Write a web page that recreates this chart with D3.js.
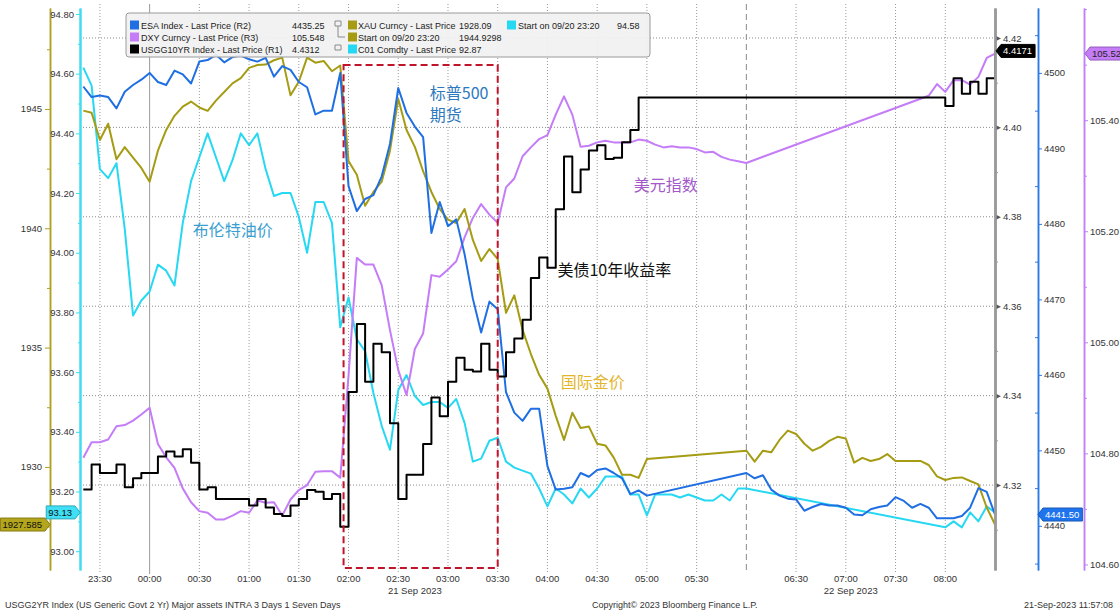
<!DOCTYPE html>
<html>
<head>
<meta charset="utf-8">
<script src="https://cdn.jsdelivr.net/npm/d3@7"></script>
<style>
  body { margin: 0; background: #fff; }
  svg text { font-family: "Liberation Sans", Arial, sans-serif; }
</style>
</head>
<body>
<script>
// 5-minute samples, 20 Sep 23:20 -> 21 Sep 08:30
var times = [
  "23:20","23:25","23:30","23:35","23:40","23:45","23:50","23:55",
  "00:00","00:05","00:10","00:15","00:20","00:25","00:30","00:35","00:40","00:45","00:50","00:55",
  "01:00","01:05","01:10","01:15","01:20","01:25","01:30","01:35","01:40","01:45","01:50","01:55",
  "02:00","02:05","02:10","02:15","02:20","02:25","02:30","02:35","02:40","02:45","02:50","02:55",
  "03:00","03:05","03:10","03:15","03:20","03:25","03:30","03:35","03:40","03:45","03:50","03:55",
  "04:00","04:05","04:10","04:15","04:20","04:25","04:30","04:35","04:40","04:45","04:50","04:55",
  "05:00","05:05","05:10","05:15","05:20","05:25","05:30","05:35","05:40","05:45","05:50","05:55",
  "06:00","06:05","06:10","06:15","06:20","06:25","06:30","06:35","06:40","06:45","06:50","06:55",
  "07:00","07:05","07:10","07:15","07:20","07:25","07:30","07:35","07:40","07:45","07:50","07:55",
  "08:00","08:05","08:10","08:15","08:20","08:25","08:30"
];

// ESA Index (R2)
var esa = [
  4498.2, 4496.8, 4497.0, 4496.8, 4495.3, 4497.5, 4498.4, 4499.1,
  4500.0, 4498.8, 4498.4, 4500.3, 4499.8, 4498.6, 4501.5, 4501.7,
  4502.4, 4501.4, 4502.1, 4502.3, 4501.8, 4501.5, 4502.0, 4499.5,
  4500.9, 4500.4, 4498.8, 4498.1, 4494.5, 4495.0, 4495.0, 4500.0,
  4485.0, 4481.7, 4483.3, 4483.8, 4486.3, 4490.6, 4498.0, 4494.7,
  4492.9, 4491.5, 4478.8, 4482.9, 4479.7, 4480.6, 4476.0, 4470.1,
  4465.6, 4469.7, 4468.7, 4457.7, 4455.0, 4453.9, 4455.5, 4455.5,
  4447.9, 4444.8, 4444.9, 4445.1, 4447.0, 4446.5, 4447.4, 4447.6,
  4447.0, 4446.3, 4444.2, 4444.7, 4444.0, null, null, null,
  null, null, null, null, null, null, null, null,
  4447.0, 4446.3, 4446.7, 4444.8, 4444.0, 4443.6, 4443.5, 4442.0,
  4442.5, 4442.9, 4442.7, 4442.7, 4442.4, 4441.5, 4441.4, 4442.2,
  4442.5, 4442.7, 4443.8, 4443.3, 4442.4, 4442.9, 4442.4, 4441.0,
  4441.0, 4441.0, 4441.3, 4442.4, 4445.0, 4444.5, 4441.5
];

// XAU Curncy (far left axis)
var xau = [
  1944.93, 1944.84, 1943.70, 1944.38, 1942.89, 1943.40, 1942.96, 1942.53,
  1941.95, 1943.25, 1944.12, 1944.71, 1945.10, 1945.31, 1945.06, 1944.92,
  1945.35, 1945.71, 1946.07, 1946.29, 1946.72, 1946.84, 1946.86, 1947.04,
  1947.15, 1945.57, 1946.14, 1947.15, 1946.94, 1947.01, 1946.58, 1946.82,
  1942.82, 1942.24, 1940.94, 1941.52, 1941.95, 1943.25, 1945.42, 1944.12,
  1943.41, 1942.39, 1941.52, 1940.81, 1940.36, 1940.22, 1940.81, 1939.51,
  1938.63, 1939.13, 1938.71, 1936.46, 1937.19, 1935.74, 1934.73, 1933.86,
  1933.28, 1932.14, 1931.13, 1932.27, 1931.63, 1931.69, 1930.97, 1930.90,
  1930.39, 1929.67, 1929.67, 1929.54, 1930.33, null, null, null,
  null, null, null, null, null, null, null, null,
  1930.68, 1930.22, 1930.68, 1930.61, 1931.13, 1931.52, 1931.38, 1930.97,
  1930.68, 1930.84, 1931.09, 1931.26, 1931.19, 1930.18, 1930.38, 1930.25,
  1930.33, 1930.54, 1930.25, 1930.25, 1930.25, 1930.25, 1930.08, 1929.60,
  1929.45, 1929.54, 1929.56, 1929.41, 1929.27, 1928.30, 1927.585
];

// C01 Comdty (left axis)
var c01 = [
  94.62, 94.56, 94.28, 94.25, 94.30, 94.08, 93.79, 93.84,
  93.87, 93.96, 93.94, 93.89, 94.10, 94.24, 94.32, 94.40,
  94.32, 94.24, 94.31, 94.40, 94.36, 94.40, 94.28, 94.19,
  94.20, 94.20, 94.12, 94.00, 94.17, 94.17, 94.10, 93.75,
  93.85, 93.71, 93.67, 93.53, 93.42, 93.34, 93.54, 93.59,
  93.52, 93.49, 93.50, 93.50, 93.48, 93.51, 93.43, 93.30,
  93.31, 93.37, 93.38, 93.30, 93.28, 93.27, 93.26, 93.21,
  93.15, 93.21, 93.19, 93.16, 93.21, 93.18, 93.21, 93.25,
  93.25, 93.25, 93.19, 93.19, 93.12, 93.19, 93.19, 93.19,
  93.18, 93.19, 93.18, 93.17, 93.17, 93.19, 93.17, 93.21,
  93.21, null, null, null, null, null, null, null,
  null, null, null, null, null, null, null, null,
  null, null, null, null, null, null, null, null,
  93.08, 93.10, 93.08, 93.13, 93.10, 93.15, 93.13
];

// DXY Curncy (R3)
var dxy = [
  104.792, 104.820, 104.820, 104.825, 104.849, 104.851, 104.859, 104.870,
  104.882, 104.817, 104.793, 104.774, 104.737, 104.712, 104.696, 104.693,
  104.681, 104.681, 104.688, 104.696, 104.693, 104.715, 104.711, 104.712,
  104.688, 104.717, 104.734, 104.743, 104.767, 104.768, 104.768, 104.756,
  104.940, 105.152, 105.140, 105.140, 105.103, 105.022, 104.950, 104.905,
  104.988, 105.016, 105.121, 105.118, 105.131, 105.146, 105.189, 105.224,
  105.249, 105.230, 105.215, 105.279, 105.295, 105.335, 105.351, 105.366,
  105.373, 105.410, 105.443, 105.410, 105.352, 105.354, 105.360, 105.363,
  105.360, 105.360, 105.360, 105.365, 105.363, 105.356, 105.351, 105.353,
  105.351, 105.351, 105.348, 105.342, 105.343, 105.334, 105.329, 105.326,
  105.323, null, null, null, null, null, null, null,
  null, null, null, null, null, null, null, null,
  null, null, null, null, null, null, 105.444, 105.465,
  105.451, 105.472, 105.472, 105.464, 105.478, 105.512, 105.520
];

// USGG10YR Index (R1)
var usgg10 = [
  4.3190, 4.3246, 4.3227, 4.3227, 4.3246, 4.3195, 4.3215, 4.3227,
  4.3227, 4.3264, 4.3275, 4.3264, 4.3280, 4.3250, 4.3190, 4.3195,
  4.3169, 4.3169, 4.3169, 4.3169, 4.3154, 4.3169, 4.3150, 4.3135,
  4.3131, 4.3154, 4.3169, 4.3189, 4.3185, 4.3169, 4.3180, 4.3107,
  4.3408, 4.3560, 4.3431, 4.3516, 4.3497, 4.3338, 4.3169, 4.3223,
  4.3223, 4.3292, 4.3396, 4.3354, 4.3431, 4.3485, 4.3458, 4.3454,
  4.3516, 4.3458, 4.3443, 4.3497, 4.3528, 4.3570, 4.3663, 4.3709,
  4.3686, 4.3817, 4.3935, 4.3855, 4.3906, 4.3948, 4.3960, 4.3929,
  4.3932, 4.3967, 4.3994, 4.4067, 4.4067, null, null, null,
  null, null, null, null, null, null, null, null,
  null, null, null, null, null, null, null, null,
  null, null, null, null, null, null, null, null,
  null, null, null, null, null, null, null, null,
  4.4048, 4.4110, 4.4075, 4.4102, 4.4075, 4.4110, 4.4171
];

// axis ticks
var xTickLabels = ["23:30","00:00","00:30","01:00","01:30","02:00","02:30","03:00","03:30",
  "04:00","04:30","05:00","05:30","06:30","07:00","07:30","08:00"];
var goldTicks = [1930, 1935, 1940, 1945];
var goldMinor = [1927.5, 1932.5, 1937.5, 1942.5, 1947.5];
var cyanTicks = [93.0, 93.2, 93.4, 93.6, 93.8, 94.0, 94.2, 94.4, 94.6, 94.8];
var cyanMinor = [93.1, 93.3, 93.5, 93.7, 93.9, 94.1, 94.3, 94.5, 94.7];
var r1Ticks = [4.32, 4.34, 4.36, 4.38, 4.40, 4.42];
var r1Minor = [4.31, 4.33, 4.35, 4.37, 4.39, 4.41];
var r2Ticks = [4440, 4450, 4460, 4470, 4480, 4490, 4500];
var r2Minor = [4435, 4445, 4455, 4465, 4475, 4485, 4495, 4505];
var r3Ticks = [104.6, 104.8, 105.0, 105.2, 105.4];
var r3Minor = [104.7, 104.9, 105.1, 105.3, 105.5, 105.6];

var legendItems = [
  { col: 0, row: 0, color: "#1f6fe3", label: "ESA Index - Last Price (R2)", value: "4435.25" },
  { col: 0, row: 1, color: "#c47cf7", label: "DXY Curncy - Last Price (R3)", value: "105.548" },
  { col: 0, row: 2, color: "#000000", label: "USGG10YR Index - Last Price (R1)", value: "4.4312" },
  { col: 1, row: 0, color: "#a59c14", label: "XAU Curncy - Last Price", value: "1928.09" },
  { col: 1, row: 1, color: "#a59c14", label: "Start on 09/20 23:20", value: "1944.9298" },
  { col: 1, row: 2, color: "#27d8f2", label: "C01 Comdty - Last Price", value: "92.87" },
  { col: 2, row: 0, color: "#27d8f2", label: "Start on 09/20 23:20", value: "94.58" }
];

var notes = [
  { text: "标普500", t: "02:49", y: 99, color: "#2e78bd" },
  { text: "期货", t: "02:49", y: 121, color: "#2e78bd" },
  { text: "美元指数", t: "04:52", y: 191, color: "#a25ac8" },
  { text: "布伦特油价", t: "00:26", y: 236, color: "#3a9fd0" },
  { text: "美债10年收益率", t: "04:06", y: 276, color: "#111111" },
  { text: "国际金价", t: "04:08", y: 388, color: "#e3b52a" }
];

function parseT(s) {
  var h = +s.slice(0, 2), m = +s.slice(3, 5);
  return h >= 12 ? new Date(2023, 8, 20, h, m) : new Date(2023, 8, 21, h, m);
}

var svgWidth = 1120, svgHeight = 615;
var plotLeft = 80, plotRight = 995, plotTop = 8, plotBottom = 570;

var svg = d3.select("body").append("svg")
  .attr("width", svgWidth)
  .attr("height", svgHeight);

var x = d3.scaleTime().domain([parseT("23:18"), parseT("08:30")]).range([plotLeft, plotRight]);

var yBlack = d3.scaleLinear().domain([4.3010, 4.4267]).range([plotBottom, plotTop]);
var yBlue = d3.scaleLinear().domain([4434.15, 4508.6]).range([plotBottom, plotTop]);
var yPurple = d3.scaleLinear().domain([104.590, 105.602]).range([plotBottom, plotTop]);
var yCyan = d3.scaleLinear().domain([92.937, 94.820]).range([plotBottom, plotTop]);
var yGold = d3.scaleLinear().domain([1925.68, 1949.23]).range([plotBottom, plotTop]);

// grid
var grid = svg.append("g");
grid.selectAll("line.h")
  .data(r1Ticks)
  .enter().append("line")
  .attr("x1", plotLeft).attr("x2", plotRight)
  .attr("y1", function (d) { return yBlack(d); })
  .attr("y2", function (d) { return yBlack(d); })
  .attr("stroke", "#8c8c8c")
  .attr("stroke-dasharray", "1,2");

grid.selectAll("line.v")
  .data(xTickLabels.filter(function (d) { return d !== "00:00"; }))
  .enter().append("line")
  .attr("x1", function (d) { return x(parseT(d)); })
  .attr("x2", function (d) { return x(parseT(d)); })
  .attr("y1", 4).attr("y2", 573)
  .attr("stroke", "#9a9a9a")
  .attr("stroke-dasharray", "1,2");

grid.append("line")
  .attr("x1", x(parseT("00:00"))).attr("x2", x(parseT("00:00")))
  .attr("y1", 4).attr("y2", 574)
  .attr("stroke", "#9a9a9a");

grid.append("line")
  .attr("x1", x(parseT("06:00"))).attr("x2", x(parseT("06:00")))
  .attr("y1", 4).attr("y2", 574)
  .attr("stroke", "#8a8a8a")
  .attr("stroke-dasharray", "6,4");

// series
var series = [
  { values: c01, y: yCyan, color: "#27d8f2", curve: d3.curveLinear },
  { values: dxy, y: yPurple, color: "#c47cf7", curve: d3.curveLinear },
  { values: xau, y: yGold, color: "#a59c14", curve: d3.curveLinear },
  { values: esa, y: yBlue, color: "#1f6fe3", curve: d3.curveLinear },
  { values: usgg10, y: yBlack, color: "#000000", curve: d3.curveStepAfter }
];

series.forEach(function (s) {
  var pts = times.map(function (t, i) { return { t: parseT(t), v: s.values[i] }; })
    .filter(function (d) { return d.v != null; });
  var line = d3.line()
    .x(function (d) { return x(d.t); })
    .y(function (d) { return s.y(d.v); })
    .curve(s.curve);
  svg.append("path")
    .datum(pts)
    .attr("d", line)
    .attr("fill", "none")
    .attr("stroke", s.color)
    .attr("stroke-width", 2)
    .attr("stroke-linejoin", "round");
});

// red dashed box
svg.append("rect")
  .attr("x", x(parseT("01:57")))
  .attr("y", 65)
  .attr("width", x(parseT("03:30")) - x(parseT("01:57")))
  .attr("height", 503)
  .attr("fill", "none")
  .attr("stroke", "#c0142a")
  .attr("stroke-width", 2)
  .attr("stroke-dasharray", "7,4");

// annotations
svg.selectAll("text.note")
  .data(notes)
  .enter().append("text")
  .attr("x", function (d) { return x(parseT(d.t)); })
  .attr("y", function (d) { return d.y; })
  .attr("fill", function (d) { return d.color; })
  .style("font-family", "'Noto Sans CJK SC', sans-serif")
  .style("font-size", "16px")
  .text(function (d) { return d.text; });

// legend
var legend = svg.append("g");
legend.append("rect")
  .attr("x", 126).attr("y", 13)
  .attr("width", 524).attr("height", 44)
  .attr("rx", 3)
  .attr("fill", "#f1f1f1").attr("fill-opacity", 0.92)
  .attr("stroke", "#9a9a9a");

var colSq = [130, 348, 507], colTxt = [141, 358, 518], colVal = [292, 459, 617];
legendItems.forEach(function (d) {
  var yc = 25 + d.row * 12;
  legend.append("rect")
    .attr("x", colSq[d.col]).attr("y", yc - 4.5)
    .attr("width", 9).attr("height", 9)
    .attr("fill", d.color);
  legend.append("text")
    .attr("x", colTxt[d.col]).attr("y", yc + 3.5)
    .attr("fill", "#222")
    .style("font-size", "9px")
    .text(d.label);
  legend.append("text")
    .attr("x", colVal[d.col]).attr("y", yc + 3.5)
    .attr("fill", "#222")
    .style("font-size", "9px")
    .text(d.value);
});
// little tree connectors
legend.append("path")
  .attr("d", "M335,21h6v5h-6z M338,26V37H345 M335,45h6v5h-6z")
  .attr("fill", "none").attr("stroke", "#8a8a8a");

// axes
function styleAxis(g, color, width) {
  g.attr("font-family", "Liberation Sans, Arial, sans-serif").attr("font-size", "9.5px");
  g.select(".domain").attr("stroke", color).attr("stroke-width", width || 1.5);
  g.selectAll(".tick line").attr("stroke", color);
  g.selectAll(".tick text").attr("fill", "#333");
}

var gGold = svg.append("g").attr("transform", "translate(50,0)")
  .call(d3.axisLeft(yGold).tickValues(goldTicks).tickSize(5).tickSizeOuter(0).tickPadding(3).tickFormat(d3.format("d")));
styleAxis(gGold, "#b0a020");
var gGoldMinor = svg.append("g").attr("transform", "translate(50,0)")
  .call(d3.axisLeft(yGold).tickValues(goldMinor).tickSize(3).tickSizeOuter(0).tickFormat(""));
styleAxis(gGoldMinor, "#b0a020");

var gCyan = svg.append("g").attr("transform", "translate(80,0)")
  .call(d3.axisLeft(yCyan).tickValues(cyanTicks).tickSize(4).tickSizeOuter(0).tickPadding(2).tickFormat(d3.format(".2f")));
styleAxis(gCyan, "#3fdcf2", 2);
var gCyanMinor = svg.append("g").attr("transform", "translate(80,0)")
  .call(d3.axisLeft(yCyan).tickValues(cyanMinor).tickSize(2).tickSizeOuter(0).tickFormat(""));
styleAxis(gCyanMinor, "#3fdcf2", 2);

var gR1 = svg.append("g").attr("transform", "translate(995,0)")
  .call(d3.axisRight(yBlack).tickValues(r1Ticks).tickSize(5).tickSizeOuter(0).tickPadding(3).tickFormat(d3.format(".2f")));
styleAxis(gR1, "#9a9a9a", 2.5);
gR1.selectAll(".tick line").remove();
gR1.selectAll(".tick").insert("path", "text")
  .attr("d", "M0,-3L6,0L0,3Z")
  .attr("fill", "#555");
var gR1Minor = svg.append("g").attr("transform", "translate(995,0)")
  .call(d3.axisRight(yBlack).tickValues(r1Minor).tickSize(3).tickSizeOuter(0).tickFormat(""));
styleAxis(gR1Minor, "#9a9a9a", 2.5);

var gR2 = svg.append("g").attr("transform", "translate(1038,0)")
  .call(d3.axisRight(yBlue).tickValues(r2Ticks).tickSize(4).tickSizeOuter(0).tickPadding(2).tickFormat(d3.format("d")));
styleAxis(gR2, "#2a7ae8");
var gR2Minor = svg.append("g").attr("transform", "translate(1038,0)")
  .call(d3.axisLeft(yBlue).tickValues(r2Minor).tickSize(3).tickSizeOuter(0).tickFormat(""));
styleAxis(gR2Minor, "#2a7ae8");

var gR3 = svg.append("g").attr("transform", "translate(1084,0)")
  .call(d3.axisRight(yPurple).tickValues(r3Ticks).tickSize(4).tickSizeOuter(0).tickPadding(2).tickFormat(d3.format(".2f")));
styleAxis(gR3, "#c080f8");
var gR3Minor = svg.append("g").attr("transform", "translate(1084,0)")
  .call(d3.axisRight(yPurple).tickValues(r3Minor).tickSize(3).tickSizeOuter(0).tickFormat(""));
styleAxis(gR3Minor, "#c080f8");

// x tick labels
svg.selectAll("text.xt")
  .data(xTickLabels)
  .enter().append("text")
  .attr("x", function (d) { return x(parseT(d)); })
  .attr("y", 582)
  .attr("text-anchor", "middle")
  .attr("fill", "#333")
  .style("font-size", "9.5px")
  .text(function (d) { return d; });

svg.append("text").attr("x", x(parseT("02:40"))).attr("y", 594)
  .attr("text-anchor", "middle").attr("fill", "#333").style("font-size", "9.5px")
  .text("21 Sep 2023");
svg.append("text").attr("x", x(parseT("07:03"))).attr("y", 594)
  .attr("text-anchor", "middle").attr("fill", "#333").style("font-size", "9.5px")
  .text("22 Sep 2023");

// last value flags
function flag(xTip, yc, txt, fill, txtColor, dir) {
  var g = svg.append("g");
  var t = g.append("text")
    .attr("y", yc + 3.5)
    .attr("fill", txtColor)
    .style("font-size", "9.5px")
    .text(txt);
  var w = t.node().getComputedTextLength() + 5, h = 13, a = 5, p;
  if (dir === "left") {
    t.attr("x", xTip + a + 2);
    p = [[xTip, yc], [xTip + a, yc - h / 2], [xTip + a + w, yc - h / 2], [xTip + a + w, yc + h / 2], [xTip + a, yc + h / 2]];
  } else {
    t.attr("x", xTip - a - w + 2);
    p = [[xTip, yc], [xTip - a, yc - h / 2], [xTip - a - w, yc - h / 2], [xTip - a - w, yc + h / 2], [xTip - a, yc + h / 2]];
  }
  g.insert("path", "text")
    .attr("d", "M" + p.join("L") + "Z")
    .attr("fill", fill)
    .attr("stroke", d3.color(fill).darker(0.8));
}

flag(50, yGold(xau[xau.length - 1]), "1927.585", "#b3a51c", "#111", "right");
flag(80, yCyan(c01[c01.length - 1]), "93.13", "#3fe0f5", "#111", "right");
flag(996, yBlack(usgg10[usgg10.length - 1]), "4.4171", "#000", "#fff", "left");
flag(1038, yBlue(4441.50), "4441.50", "#1f74ee", "#fff", "left");
flag(1085, yPurple(105.52), "105.52", "#c47cf7", "#222", "left");

// footer
svg.append("text").attr("x", 5).attr("y", 608).attr("fill", "#333").style("font-size", "9px")
  .text("USGG2YR Index (US Generic Govt 2 Yr) Major assets INTRA 3 Days 1 Seven Days");
svg.append("text").attr("x", 592).attr("y", 608).attr("fill", "#333").style("font-size", "9px")
  .text("Copyright\u00a9 2023 Bloomberg Finance L.P.");
svg.append("text").attr("x", 1113).attr("y", 608).attr("text-anchor", "end").attr("fill", "#333").style("font-size", "9px")
  .text("21-Sep-2023 11:57:08");
</script>
</body>
</html>
